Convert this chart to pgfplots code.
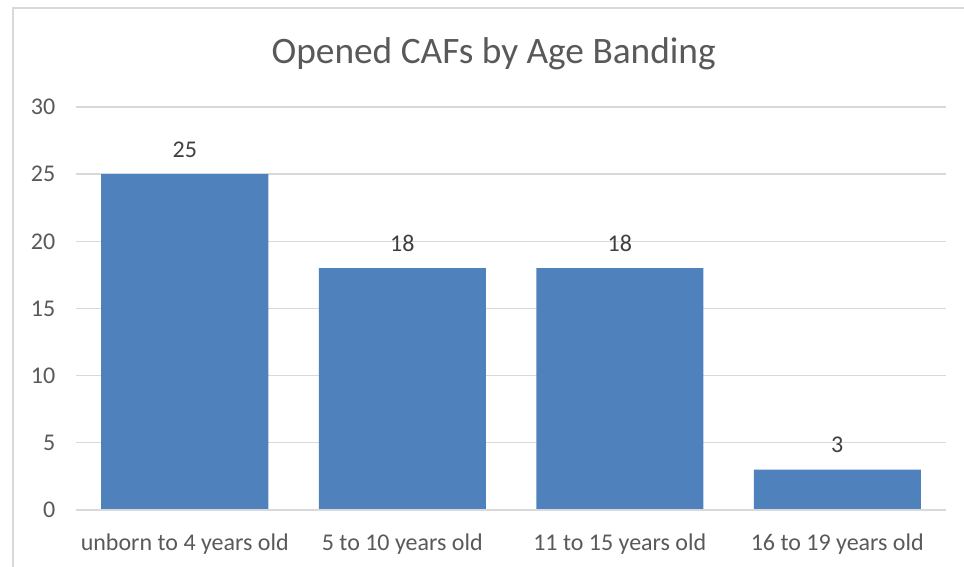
\documentclass[border=0pt]{standalone}
\usepackage{pgfplots}
\pgfplotsset{compat=1.18}
\usepackage{fontspec}
\setmainfont{Carlito}
\definecolor{barblue}{HTML}{4F81BD}
\definecolor{gridgray}{HTML}{D9D9D9}
\definecolor{txtgray}{HTML}{595959}
\definecolor{lblgray}{HTML}{404040}
\begin{document}
\begin{tikzpicture}
\useasboundingbox (0pt,0pt) rectangle (723pt,425.25pt);
\draw[gridgray,line width=1.5pt] (9.75pt,-5pt) -- (9.75pt,419.25pt) -- (730pt,419.25pt);
\begin{axis}[
  at={(57pt,42.75pt)}, anchor=south west,
  scale only axis,
  width=652.5pt, height=302.25pt,
  ymin=0, ymax=30, ytick={0,5,...,30},
  xmin=-0.5, xmax=3.5,
  xtick={0,1,2,3},
  xticklabels={unborn to 4 years old,5 to 10 years old,11 to 15 years old,16 to 19 years old},
  axis line style={draw=none},
  ymajorgrids, grid style={gridgray,line width=1pt},
  major tick length=0pt,
  tick label style={font=\fontsize{18}{21}\selectfont, text=txtgray},
  /pgf/number format/assume math mode=true,
  yticklabel style={xshift=-12pt},
  xticklabel style={yshift=-14pt},
  title={Opened CAFs by Age Banding},
  title style={font=\fontsize{28}{33}\selectfont, text=txtgray, yshift=18pt, xshift=-13pt},
  nodes near coords,
  every node near coord/.append style={font=\fontsize{18}{21}\selectfont, text=lblgray, yshift=9pt},
  clip=false,
]
\addplot[ybar, bar width=125.25pt, fill=barblue, draw=none] coordinates {(0,25) (1,18) (2,18) (3,3)};
\draw[gridgray,line width=1.2pt] (axis cs:-0.5,0) -- (axis cs:3.5,0);
\end{axis}
\end{tikzpicture}
\end{document}
